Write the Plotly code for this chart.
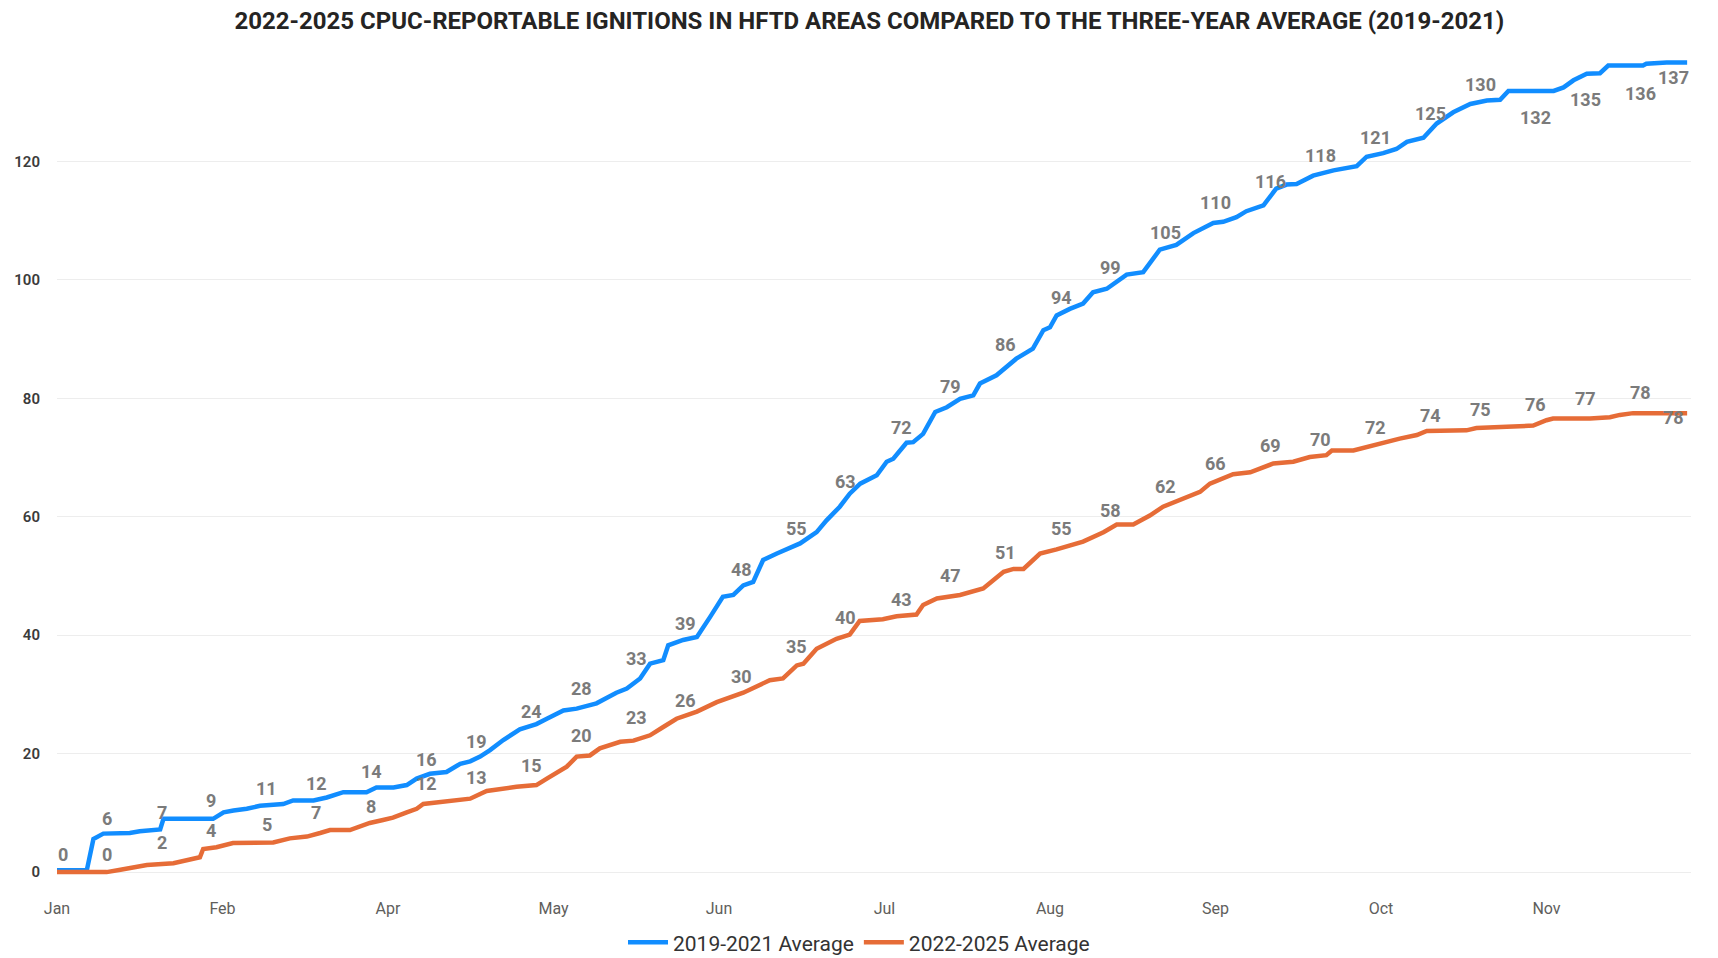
import plotly.graph_objects as go

# ---------------- data ----------------
month_ticks = [0, 30, 60, 90, 120, 150, 180, 210, 240, 270]
month_labels = ["Jan", "Feb", "Apr", "May", "Jun", "Jul", "Aug", "Sep", "Oct", "Nov"]

blue_x = [0, 5.4, 6.6, 8.4, 13.2, 15.0, 18.7, 19.3, 28.3, 30.2, 32.0, 34.4, 36.8, 41.0, 42.8,
          46.5, 48.9, 50.1, 51.9, 56.1, 57.9, 61.0, 63.4, 65.2, 67.6, 70.6, 73.1, 74.9, 76.7,
          78.5, 80.9, 83.9, 86.9, 88.8, 91.8, 94.2, 97.8, 101.4, 103.3, 105.7, 107.5, 109.9,
          110.8, 113.5, 116.0, 118.4, 120.7, 122.6, 124.4, 126.2, 128.0, 130.5, 134.7, 137.7,
          139.5, 141.9, 143.7, 145.6, 148.6, 150.4, 151.6, 154.0, 155.2, 157.0, 159.2, 161.3,
          163.7, 166.1, 167.3, 170.3, 173.9, 176.9, 178.8, 180.0, 181.2, 183.6, 186.0, 187.8,
          190.3, 193.9, 196.9, 199.9, 202.9, 206.0, 209.6, 211.4, 213.8, 215.6, 218.7, 221.0,
          222.9, 224.7, 227.7, 231.4, 235.6, 237.4, 240.4, 242.8, 244.7, 247.7, 250.1, 253.1,
          256.2, 259.2, 261.6, 263.1, 271.3, 273.1, 274.9, 277.3, 279.7, 281.2, 287.5, 288.1,
          291.8, 295.5]
blue_y = [0.3, 0.3, 5.6, 6.5, 6.6, 6.9, 7.2, 9.0, 9.0, 10.1, 10.4, 10.7, 11.2, 11.5, 12.1,
          12.1, 12.6, 13.0, 13.5, 13.5, 14.3, 14.3, 14.7, 15.8, 16.6, 16.9, 18.3, 18.7, 19.5,
          20.6, 22.3, 24.1, 25.0, 25.9, 27.3, 27.6, 28.5, 30.3, 31.0, 32.7, 35.2, 35.8,
          38.3, 39.2, 39.7, 43.1, 46.5, 46.8, 48.4, 49.0, 52.7, 53.8, 55.5, 57.4,
          59.4, 61.7, 63.9, 65.6, 67.0, 69.3, 69.8, 72.5, 72.6, 74.0, 77.7, 78.5,
          79.9, 80.5, 82.5, 83.9, 86.7, 88.4, 91.5, 92.0, 94.0, 95.1, 96.0, 97.9,
          98.5, 100.9, 101.3, 105.1, 105.9, 107.9, 109.6, 109.8, 110.6, 111.6, 112.6, 115.4,
          116.1, 116.2, 117.6, 118.5, 119.2, 120.8, 121.4, 122.1, 123.3, 124.0, 126.4, 128.3,
          129.7, 130.3, 130.4, 131.9, 131.9, 132.5, 133.7, 134.8, 134.9, 136.2, 136.2, 136.5,
          136.7, 136.7]

orange_x = [0, 9.0, 11.5, 13.9, 16.3, 21.1, 23.5, 25.9, 26.5, 28.9, 31.9, 39.2, 42.2, 45.3,
            47.7, 49.5, 53.1, 54.9, 56.7, 59.1, 60.9, 63.4, 65.2, 66.4, 70.0, 72.4, 74.9, 76.7,
            77.9, 83.3, 86.9, 88.8, 92.4, 94.2, 96.6, 98.4, 102.1, 104.5, 107.5, 109.9, 112.3,
            116.0, 119.6, 124.4, 126.8, 129.2, 131.6, 134.1, 135.3, 137.7, 141.3, 143.7, 145.5,
            149.7, 152.2, 155.8, 157.0, 159.5, 163.7, 167.9, 171.6, 173.4, 175.2, 178.2, 181.2,
            186.0, 189.7, 192.1, 195.1, 198.1, 200.5, 204.1, 207.2, 209.0, 213.2, 216.3, 220.5,
            224.1, 227.1, 230.1, 231.1, 235.0, 237.4, 240.4, 243.4, 246.5, 248.3, 255.5, 257.3,
            262.8, 267.6, 270.0, 271.2, 277.9, 281.5, 283.3, 285.7, 295.5]
orange_y = [0, 0, 0.4, 0.8, 1.2, 1.5, 2.0, 2.5, 3.9, 4.2, 4.9, 5.0, 5.7, 6.0,
            6.6, 7.1, 7.1, 7.7, 8.3, 8.8, 9.2, 10.1, 10.7, 11.5, 11.8, 12.1, 12.4, 13.2,
            13.7, 14.4, 14.7, 15.8, 17.8, 19.5, 19.7, 20.9, 22.0, 22.2, 23.1, 24.5, 25.9,
            27.1, 28.7, 30.3, 31.3, 32.4, 32.7, 34.9, 35.2, 37.7, 39.4, 40.1, 42.4,
            42.7, 43.2, 43.5, 45.1, 46.2, 46.8, 47.9, 50.7, 51.2, 51.2, 53.8, 54.5,
            55.8, 57.4, 58.7, 58.7, 60.2, 61.7, 63.1, 64.2, 65.6, 67.2, 67.5, 69.0,
            69.3, 70.1, 70.4, 71.2, 71.2, 71.8, 72.6, 73.2, 73.8, 74.5, 74.6, 75.0,
            75.2, 75.4, 76.3, 76.6, 76.6, 76.8, 77.2, 77.5, 77.5]

label_x = [1, 9, 19, 28, 38, 47, 57, 67, 76, 86, 95, 105, 114, 124, 134, 143, 153, 162,
           172, 182, 191, 201, 210, 220, 229, 239, 249, 258, 268, 277, 287, 293]
blue_labels = [0, 6, 7, 9, 11, 12, 14, 16, 19, 24, 28, 33, 39, 48, 55, 63, 72, 79, 86, 94,
               99, 105, 110, 116, 118, 121, 125, 130, 132, 135, 136, 137]
orange_labels = [None, 0, 2, 4, 5, 7, 8, 12, 13, 15, 20, 23, 26, 30, 35, 40, 43, 47, 51, 55,
                 58, 62, 66, 69, 70, 72, 74, 75, 76, 77, 78, 78]

series_names = ["2019-2021 Average", "2022-2025 Average"]
title_text = "2022-2025 CPUC-REPORTABLE IGNITIONS IN HFTD AREAS COMPARED TO THE THREE-YEAR AVERAGE (2019-2021)"

# ---------------- style ----------------
BLUE = "#118DFF"
ORANGE = "#E66C37"
LABEL_GREY = "#7b7b7b"
FONT = "Roboto, 'Open Sans', sans-serif"

# label placement (pixel offsets): above the line by default, some placed below
blue_shift = [18] * len(blue_labels)
blue_shift[23] = 4
blue_shift[-4:] = [-27, -27, -27, -17]
orange_shift = [18] * len(orange_labels)
orange_shift[-1] = -7

fig = go.Figure()
fig.add_trace(go.Scatter(x=blue_x, y=blue_y, mode="lines", name=series_names[0],
                         line=dict(color=BLUE, width=4.5), hoverinfo="skip"))
fig.add_trace(go.Scatter(x=orange_x, y=orange_y, mode="lines", name=series_names[1],
                         line=dict(color=ORANGE, width=4.5), hoverinfo="skip"))

annotations = []
for xs, vals, shifts in ((label_x, blue_labels, blue_shift), (label_x, orange_labels, orange_shift)):
    for xv, v, s in zip(xs, vals, shifts):
        if v is None:
            continue
        annotations.append(dict(x=xv, y=v, xref="x", yref="y", text=str(v), showarrow=False,
                                yshift=s, yanchor="middle",
                                font=dict(family=FONT, size=18, color=LABEL_GREY, weight="bold")))

fig.update_layout(
    width=1718, height=958,
    paper_bgcolor="white", plot_bgcolor="white",
    margin=dict(l=57, r=27, t=43, b=77, autoexpand=False),
    title=dict(text=title_text, x=0.506, xanchor="center", y=0.979, yanchor="middle",
               font=dict(family=FONT, size=24, color="#252423", weight="bold")),
    showlegend=True,
    legend=dict(orientation="h", xref="container", yref="container", x=0.5, xanchor="center",
                y=0.016, yanchor="middle", font=dict(family=FONT, size=21, color="#333333"),
                itemwidth=40, bgcolor="rgba(0,0,0,0)"),
    annotations=annotations,
)
fig.update_xaxes(range=[0, 296.2], tickvals=month_ticks, ticktext=month_labels,
                 showgrid=False, zeroline=False, showline=False, ticks="",
                 ticklabelstandoff=16, automargin=False,
                 tickfont=dict(family=FONT, size=16, color="#605E5C"))
fig.update_yaxes(range=[-1.5, 140], tickvals=[0, 20, 40, 60, 80, 100, 120],
                 showgrid=True, gridcolor="#EDEDED", gridwidth=1, zeroline=False,
                 showline=False, ticks="", ticklabelstandoff=16, automargin=False,
                 tickfont=dict(family=FONT, size=15, color="#3b3b3b", weight=600))

fig.write_html("out.html", config={"displayModeBar": False},
               post_script="document.body.style.margin='0';")
